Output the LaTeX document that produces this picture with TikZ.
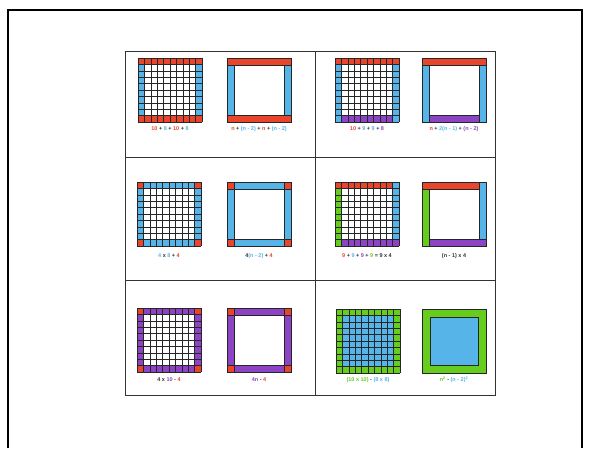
\documentclass[tikz,border=0pt]{standalone}
\usepackage{fontspec}
\newfontfamily\lblfont{Liberation Sans}
\usetikzlibrary{positioning}
\definecolor{TileRed}{HTML}{E8452C}
\definecolor{TileBlue}{HTML}{56B4E9}
\definecolor{TilePurple}{HTML}{8C44C4}
\definecolor{TileGreen}{HTML}{66CC1E}
\definecolor{InkGray}{HTML}{333333}
\tikzset{
  % Frames
  frameline/.style={line width=2pt,black},
  tableline/.style={line width=1pt,black!80},
  % Tiles
  gridline/.style={line width=0.45pt,black!85},
  band/.style={draw=black!85,line width=0.6pt},
  % Formula labels
  lbl/.style={font=\lblfont\fontsize{5.5}{6.5}\selectfont\bfseries,text=InkGray,inner sep=0pt}
}
% 10 x 10 grid of unit tiles
\newcommand{\tilegrid}{%
  \foreach \k in {0,...,10}{%
    \draw[gridline] (\k*6.4,0) -- (\k*6.4,64);
    \draw[gridline] (0,\k*6.4) -- (64,\k*6.4);}}
\newcommand{\cR}[1]{{\color{TileRed}#1}}
\newcommand{\cB}[1]{{\color{TileBlue}#1}}
\newcommand{\cP}[1]{{\color{TilePurple}#1}}
\newcommand{\cG}[1]{{\color{TileGreen}#1}}

\begin{document}
\begin{tikzpicture}[x=1pt,y=-1pt]
  \useasboundingbox (0,0) rectangle (590,448);
  \draw[frameline] (8,448) -- (8,10) -- (582,10) -- (582,448);
  % table
  \draw[tableline] (125,51) rectangle (495,395);
  \draw[tableline] (315,51) -- (315,395);
  \draw[tableline] (125,157) -- (495,157);
  \draw[tableline] (125,280) -- (495,280);

  % row 1, left
  \begin{scope}[shift={(138,58)}]
    \fill[TileRed] (0,0) rectangle (64,6.4) (0,57.6) rectangle (64,64);
    \fill[TileBlue] (0,6.4) rectangle (6.4,57.6) (57.6,6.4) rectangle (64,57.6);
    \tilegrid
  \end{scope}
  \begin{scope}[shift={(227,58)}]
    \filldraw[band,fill=TileRed] (0,0) rectangle (64,7);
    \filldraw[band,fill=TileRed] (0,57) rectangle (64,64);
    \filldraw[band,fill=TileBlue] (0,7) rectangle (7,57);
    \filldraw[band,fill=TileBlue] (57,7) rectangle (64,57);
  \end{scope}
  \node[lbl] (lab1a) at (170,129) {\cR{10} + \cB{8} + \cR{10} + \cB{8}};
  \node[lbl] (lab1b) at (259,129) {\cR{n} + \cB{(n - 2)} + \cR{n} + \cB{(n - 2)}};

  % row 1, right
  \begin{scope}[shift={(335,58)}]
    \fill[TileRed] (0,0) rectangle (64,6.4);
    \fill[TileBlue] (0,6.4) rectangle (6.4,64) (57.6,6.4) rectangle (64,64);
    \fill[TilePurple] (6.4,57.6) rectangle (57.6,64);
    \tilegrid
  \end{scope}
  \begin{scope}[shift={(422,58)}]
    \filldraw[band,fill=TileRed] (0,0) rectangle (64,7);
    \filldraw[band,fill=TileBlue] (0,7) rectangle (7,64);
    \filldraw[band,fill=TileBlue] (57,7) rectangle (64,64);
    \filldraw[band,fill=TilePurple] (7,57) rectangle (57,64);
  \end{scope}
  \node[lbl] (lab2a) at (367,129) {\cR{10} + \cB{9} + \cB{9} + \cP{8}};
  \node[lbl] (lab2b) at (454,129) {\cR{n} + \cB{2(n - 1)} + \cP{(n - 2)}};

  % row 2, left
  \begin{scope}[shift={(137,182)}]
    \fill[TileBlue] (0,0) rectangle (64,64);
    \fill[TileRed] (0,0) rectangle (6.4,6.4) (57.6,0) rectangle (64,6.4)
      (0,57.6) rectangle (6.4,64) (57.6,57.6) rectangle (64,64);
    \fill[white] (6.4,6.4) rectangle (57.6,57.6);
    \tilegrid
  \end{scope}
  \begin{scope}[shift={(227,182)}]
    \filldraw[band,fill=TileBlue] (0,0) rectangle (64,64);
    \filldraw[band,fill=white] (7,7) rectangle (57,57);
    \foreach \p/\q in {0/0,57/0,0/57,57/57}
      \filldraw[band,fill=TileRed] (\p,\q) rectangle ++(7,7);
  \end{scope}
  \node[lbl] (lab3a) at (169,256) {\cB{4} x \cB{8} + \cR{4}};
  \node[lbl] (lab3b) at (259,256) {4\cB{(n - 2)} + \cR{4}};

  % row 2, right
  \begin{scope}[shift={(335,182)}]
    \fill[TileRed] (0,0) rectangle (57.6,6.4);
    \fill[TileBlue] (57.6,0) rectangle (64,57.6);
    \fill[TilePurple] (6.4,57.6) rectangle (64,64);
    \fill[TileGreen] (0,6.4) rectangle (6.4,64);
    \tilegrid
  \end{scope}
  \begin{scope}[shift={(422,182)}]
    \filldraw[band,fill=TileRed] (0,0) rectangle (57,7);
    \filldraw[band,fill=TileBlue] (57,0) rectangle (64,57);
    \filldraw[band,fill=TilePurple] (7,57) rectangle (64,64);
    \filldraw[band,fill=TileGreen] (0,7) rectangle (7,64);
  \end{scope}
  \node[lbl] (lab4a) at (367,256) {\cR{9} + \cB{9} + \cP{9} + \cG{9} = 9 x 4};
  \node[lbl] (lab4b) at (454,256) {(n - 1) x 4};

  % row 3, left
  \begin{scope}[shift={(137,308)}]
    \fill[TilePurple] (0,0) rectangle (64,64);
    \fill[white] (6.4,6.4) rectangle (57.6,57.6);
    \fill[TileRed] (0,0) rectangle (6.4,6.4) (57.6,0) rectangle (64,6.4)
      (0,57.6) rectangle (6.4,64) (57.6,57.6) rectangle (64,64);
    \tilegrid
  \end{scope}
  \begin{scope}[shift={(227,308)}]
    \filldraw[band,fill=TilePurple] (0,0) rectangle (64,64);
    \filldraw[band,fill=white] (7,7) rectangle (57,57);
    \foreach \p/\q in {0/0,57/0,0/57,57/57}
      \filldraw[band,fill=TileRed] (\p,\q) rectangle ++(7,7);
  \end{scope}
  \node[lbl] (lab5a) at (169,380) {4 x \cP{10} - \cR{4}};
  \node[lbl] (lab5b) at (259,380) {\cP{4n} - \cR{4}};

  % row 3, right
  \begin{scope}[shift={(336,309)}]
    \fill[TileGreen] (0,0) rectangle (64,64);
    \fill[TileBlue] (6.4,6.4) rectangle (57.6,57.6);
    \tilegrid
  \end{scope}
  \begin{scope}[shift={(422,309)}]
    \filldraw[band,fill=TileGreen] (0,0) rectangle (64,64);
    \filldraw[band,fill=TileBlue] (8,8) rectangle (56,56);
  \end{scope}
  \node[lbl] (lab6a) at (368,380) {\cG{(10 x 10)} - \cB{(8 x 8)}};
  \node[lbl] (lab6b) at (454,380) {\cG{n\textsuperscript{2}} - \cB{(n - 2)\textsuperscript{2}}};
\end{tikzpicture}
\end{document}
